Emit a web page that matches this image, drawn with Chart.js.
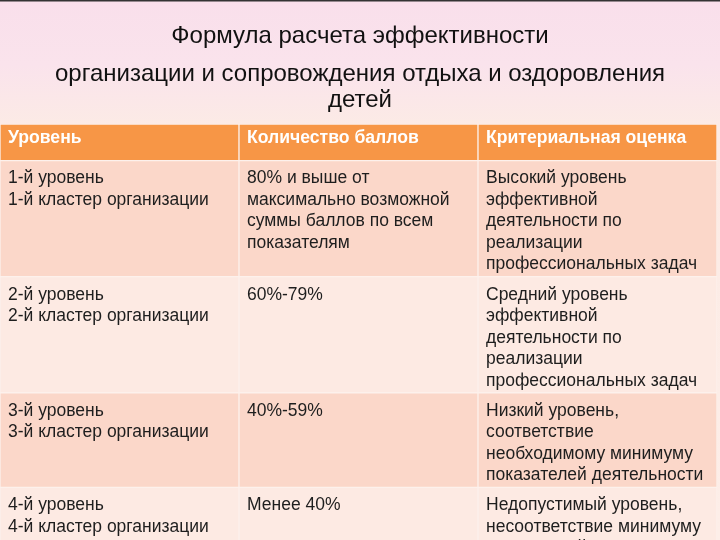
<!DOCTYPE html>
<html>
<head>
<meta charset="utf-8">
<script src="https://cdn.jsdelivr.net/npm/chart.js@4"></script>
<style>
  html, body { margin: 0; padding: 0; background: #fbe6ea; }
  #wrap { width: 720px; height: 540px; position: relative; }
</style>
</head>
<body>
<div id="wrap"><canvas id="tableChart"></canvas></div>
<script>
// Title lines above the table
const titleLines = [
  'Формула расчета эффективности',
  'организации и сопровождения отдыха и оздоровления',
  'детей'
]

// Column headers
const headers = ['Уровень', 'Количество баллов', 'Критериальная оценка']

// Cell texts, one array per column, one entry (list of lines) per row
const levelText = [
  ['1-й уровень', '1-й кластер организации'],
  ['2-й уровень', '2-й кластер организации'],
  ['3-й уровень', '3-й кластер организации'],
  ['4-й уровень', '4-й кластер организации']
]
const scoreText = [
  ['80% и выше от', 'максимально возможной', 'суммы баллов по всем', 'показателям'],
  ['60%-79%'],
  ['40%-59%'],
  ['Менее 40%']
]
const ratingText = [
  ['Высокий уровень', 'эффективной', 'деятельности по', 'реализации', 'профессиональных задач'],
  ['Средний уровень', 'эффективной', 'деятельности по', 'реализации', 'профессиональных задач'],
  ['Низкий уровень,', 'соответствие', 'необходимому минимуму', 'показателей деятельности'],
  ['Недопустимый уровень,', 'несоответствие минимуму', 'показателей деятельности']
]

// Row spans on the y scale, in text-line units
const columnsText = [levelText, scoreText, ratingText]
const headerSpan = 1.7
const rowSpans = levelText.map((_, r) => Math.max(...columnsText.map(col => col[r].length)) + 0.4)
const rowStarts = []
let acc = headerSpan
rowSpans.forEach(s => { rowStarts.push(acc); acc += s })

const headerColor = '#f79646'
const bandColors = ['#fbd7c9', '#fdeae3']

const datasets = [{
  label: 'header',
  data: headers.map(() => [0, headerSpan]),
  backgroundColor: headerColor
}]
rowStarts.forEach((start, r) => {
  datasets.push({
    label: 'row' + (r + 1),
    data: headers.map(() => [start, start + rowSpans[r]]),
    backgroundColor: bandColors[r % 2]
  })
})

// background and title behind the table
const backdrop = {
  id: 'backdrop',
  beforeDraw (chart) {
    const ctx = chart.ctx
    const g = ctx.createLinearGradient(0, 0, 0, chart.height)
    g.addColorStop(0, '#f9dfeb')
    g.addColorStop(0.12, '#fae3ec')
    g.addColorStop(0.24, '#fcebe5')
    g.addColorStop(1, '#fdeee8')
    ctx.save()
    ctx.fillStyle = g
    ctx.fillRect(0, 0, chart.width, chart.height)
    ctx.fillStyle = '#333'
    ctx.fillRect(0, 0, chart.width, 1.5)
    ctx.fillStyle = '#111'
    ctx.font = '24px "Liberation Sans", Arial, sans-serif'
    ctx.textAlign = 'center'
    ctx.textBaseline = 'middle'
    const ys = [36, 74, 100]
    titleLines.forEach((t, i) => ctx.fillText(t, chart.width / 2, ys[i]))
    ctx.restore()
  }
}

// cell texts on top of the bars
const cellText = {
  id: 'cellText',
  afterDatasetsDraw (chart) {
    const ctx = chart.ctx
    const y = chart.scales.y
    const area = chart.chartArea
    ctx.save()
    ctx.beginPath()
    ctx.rect(area.left, area.top, area.right - area.left, area.bottom - area.top)
    ctx.clip()
    ctx.textAlign = 'left'
    ctx.textBaseline = 'middle'
    const headMeta = chart.getDatasetMeta(0)
    ctx.fillStyle = '#ffffff'
    ctx.font = 'bold 17.6px "Liberation Sans", Arial, sans-serif'
    headers.forEach((h, c) => {
      const bar = headMeta.data[c]
      ctx.fillText(h, bar.x - bar.width / 2 + 8, y.getPixelForValue(0.68))
    })
    ctx.fillStyle = '#1e1e1e'
    ctx.font = '17.5px "Liberation Sans", Arial, sans-serif'
    rowStarts.forEach((start, r) => {
      const meta = chart.getDatasetMeta(r + 1)
      columnsText.forEach((col, c) => {
        const bar = meta.data[c]
        col[r].forEach((line, i) => {
          ctx.fillText(line, bar.x - bar.width / 2 + 8, y.getPixelForValue(start + 0.84 + i))
        })
      })
    })
    ctx.restore()
  }
}

new Chart(document.getElementById('tableChart').getContext('2d'), {
  type: 'bar',
  data: {
    labels: headers,
    datasets: datasets
  },
  options: {
    responsive: true,
    maintainAspectRatio: false,
    animation: false,
    layout: { padding: { top: 124, left: 0, right: 3, bottom: 0 } },
    datasets: {
      bar: {
        grouped: false,
        barPercentage: 1,
        categoryPercentage: 1,
        borderWidth: 1,
        borderColor: '#fdf1ec',
        borderSkipped: false
      }
    },
    plugins: {
      legend: { display: false },
      tooltip: { enabled: false },
      title: { display: false }
    },
    scales: {
      x: { display: false },
      y: { display: false, min: 0, max: 19.35, reverse: true }
    }
  },
  plugins: [backdrop, cellText]
})
</script>
</body>
</html>
